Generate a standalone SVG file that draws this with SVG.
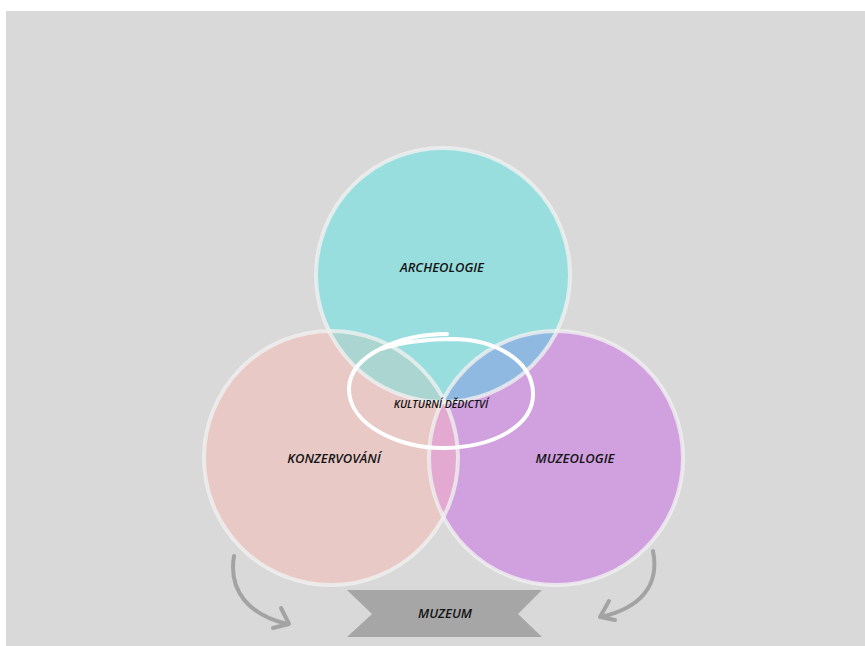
<svg xmlns="http://www.w3.org/2000/svg" width="865" height="646" viewBox="0 0 865 646">
<style>
.lbl{font-family:"Open Sans","Noto Sans","Liberation Sans",sans-serif;font-style:italic;font-weight:600;fill:#141414;text-anchor:middle}
.ring{fill:none;stroke:#f0f0f0;stroke-width:4;stroke-opacity:0.8}
.arr{fill:none;stroke:#a3a3a3;stroke-width:4;stroke-linecap:round;stroke-linejoin:round}
</style>
<defs>
<clipPath id="cA"><circle cx="443" cy="275" r="127"/></clipPath>
<clipPath id="cK"><circle cx="331" cy="458" r="127"/></clipPath>
<clipPath id="cM"><circle cx="556" cy="458" r="127"/></clipPath>
</defs>
<rect x="0" y="0" width="865" height="646" fill="#ffffff"/>
<rect x="6" y="11" width="859" height="635" fill="#d9d9d9"/>
<g id="konzervovani">
<circle cx="331" cy="458" r="127" fill="#e8c9c6"/>
</g>
<g id="muzeologie">
<circle cx="556" cy="458" r="127" fill="#d1a0df"/>
</g>
<g id="archeologie">
<circle cx="443" cy="275" r="127" fill="#99dedf"/>
</g>
<g id="overlaps">
<circle cx="331" cy="458" r="127" fill="#e3a9d1" clip-path="url(#cM)"/>
<circle cx="443" cy="275" r="127" fill="#abd5d0" clip-path="url(#cK)"/>
<g clip-path="url(#cM)"><circle cx="443" cy="275" r="127" fill="#8fb9e0"/></g>
</g>
<g id="rings">
<circle class="ring" cx="331" cy="458" r="127"/>
<circle class="ring" cx="556" cy="458" r="127"/>
<circle class="ring" cx="443" cy="275" r="127"/>
</g>
<g id="labels">
<text class="lbl" x="442" y="272" font-size="13">ARCHEOLOGIE</text>
<text class="lbl" x="334" y="463" font-size="13">KONZERVOVÁNÍ</text>
<text class="lbl" x="575" y="463" font-size="13">MUZEOLOGIE</text>
</g>
<g id="kulturni-dedictvi">
<path d="M447,334 C400,334 350,355 349,388 C348,425 400,449 445,448 C495,447 534,425 533,393 C532,360 495,340 455,339 C430,339 402,342 381,349" fill="none" stroke="#ffffff" stroke-width="4" stroke-linecap="round"/>
<text class="lbl" x="441" y="408" font-size="10.5" font-weight="400">KULTURNÍ DĚDICTVÍ</text>
</g>
<g id="connectors">
<path class="arr" d="M234,556 C228,592 250,615 287,624"/>
<path class="arr" d="M281,608 L289,624 L273,628"/>
<path class="arr" d="M653,551 C660,586 640,608 601,617"/>
<path class="arr" d="M609,601 L600,617 L615,620"/>
</g>
<g id="muzeum">
<polygon points="347,590 542,590 518,614 542,637 347,637 372,614" fill="#a6a6a6"/>
<text class="lbl" x="445" y="618" font-size="13">MUZEUM</text>
</g>
</svg>
